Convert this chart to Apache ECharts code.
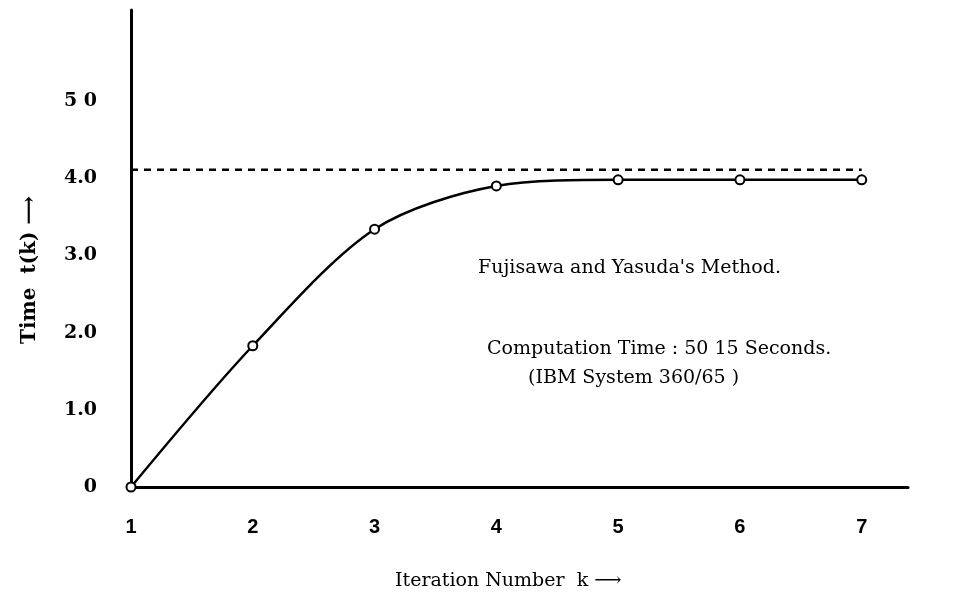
<!DOCTYPE html>
<html>
<head>
<meta charset="utf-8">
<script src="https://cdn.jsdelivr.net/npm/echarts@6/dist/echarts.min.js"></script>
<style>
  html, body { margin: 0; padding: 0; background: #fff; }
  #chart { width: 955px; height: 611px; }
</style>
</head>
<body>
<div id="chart"></div>
<script>
// iteration numbers k and the times t(k)
const iterations = [1, 2, 3, 4, 5, 6, 7]
const times = [0, 1.83, 3.34, 3.9, 3.98, 3.98, 3.98]
// dashed limit line
const limitValue = 4.11
const yTickLabels = ['0', '1.0', '2.0', '3.0', '4.0', '5 0']
const xTickLabels = ['1', '2', '3', '4', '5', '6', '7']

const chart = echarts.init(document.getElementById('chart'))

const serif = '"DejaVu Serif", "Liberation Serif", serif'

chart.setOption({
  backgroundColor: '#fff',
  animation: false,
  grid: { left: 131, top: 10, width: 777, height: 477 },
  xAxis: {
    type: 'value',
    min: 1,
    max: 7.38,
    interval: 1,
    axisLine: { lineStyle: { color: '#000', width: 3 } },
    axisTick: { show: false },
    splitLine: { show: false },
    axisLabel: {
      color: '#000',
      fontFamily: '"Liberation Sans Narrow", "Liberation Sans", sans-serif',
      fontWeight: 'bold',
      fontSize: 20,
      margin: 30,
      formatter: v => {
        const i = Math.round(v) - 1
        return Math.abs(v - Math.round(v)) < 1e-6 && xTickLabels[i] ? xTickLabels[i] : ''
      }
    }
  },
  yAxis: {
    type: 'value',
    min: 0,
    max: 6.18,
    interval: 1,
    axisLine: { show: true, lineStyle: { color: '#000', width: 3 } },
    axisTick: { show: false },
    splitLine: { show: false },
    axisLabel: {
      color: '#000',
      fontFamily: serif,
      fontWeight: 'bold',
      fontSize: 19,
      margin: 34,
      formatter: v => {
        const i = Math.round(v)
        return yTickLabels[i] !== undefined ? yTickLabels[i] : ''
      }
    }
  },
  graphic: [
    {
      type: 'text',
      x: 30,
      y: 270,
      rotation: Math.PI / 2,
      style: {
        text: 'Time  t(k) ⟶',
        fill: '#000',
        font: 'bold 20px ' + serif,
        align: 'center',
        verticalAlign: 'middle'
      }
    },
    {
      type: 'text',
      left: 395,
      top: 572,
      style: {
        text: 'Iteration Number  k ⟶',
        fill: '#000',
        font: '19px ' + serif
      }
    },
    {
      type: 'text',
      left: 478,
      top: 259,
      style: {
        text: "Fujisawa and Yasuda's Method.",
        fill: '#000',
        font: '19px ' + serif
      }
    },
    {
      type: 'text',
      left: 487,
      top: 340,
      style: {
        text: 'Computation Time : 50 15 Seconds.',
        fill: '#000',
        font: '19px ' + serif
      }
    },
    {
      type: 'text',
      left: 528,
      top: 369,
      style: {
        text: '(IBM System 360/65 )',
        fill: '#000',
        font: '19px ' + serif
      }
    }
  ],
  series: [
    {
      type: 'line',
      data: [[iterations[0], limitValue], [iterations[iterations.length - 1], limitValue]],
      symbol: 'none',
      lineStyle: { color: '#000', width: 2.5, type: [7, 6] },
      silent: true
    },
    {
      type: 'line',
      data: iterations.map((k, i) => [k, times[i]]),
      smooth: 0.3,
      symbol: 'circle',
      symbolSize: 9,
      itemStyle: { color: '#fff', borderColor: '#000', borderWidth: 2 },
      lineStyle: { color: '#000', width: 2.5 }
    }
  ]
})
</script>
</body>
</html>
